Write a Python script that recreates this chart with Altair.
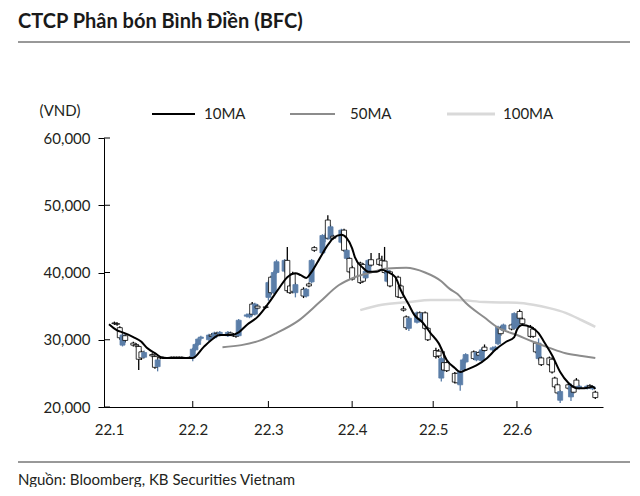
import altair as alt
import pandas as pd

# ---------------- data (VND) ----------------
dates = pd.bdate_range("2022-01-03", "2022-06-30")

open_ = [32500,32400,31800,29200,30600,29500,29300,29000,28200,27400,
         27800,27500,26000,27400,27400,27400,27400,27400,27400,27400,
         27400,27300,28500,29300,30200,30000,30700,30300,31000,30900,
         30600,31000,30800,30700,30600,33500,33400,35300,33800,35000,
         34900,36300,39300,37000,40000,40200,41800,38000,39800,37000,
         37500,36500,38300,38600,43700,42900,45000,47800,45000,45400,
         44500,46300,42100,42100,40700,41400,41200,39200,40200,41900,
         42000,41800,41700,38700,40100,39300,38000,34600,33400,31700,
         32600,34000,32700,34000,31700,28400,28300,24300,26600,26600,
         25000,25000,23300,25500,26700,28200,27000,28100,26900,28900,
         28500,28600,29400,31800,31400,32200,31700,32000,34200,33100,
         31900,31600,29500,27200,27300,27300,27100,24300,23300,21000,
         23300,21500,23000,24000,22800,22800,23200,22700,22200]
high = [32700,32600,32000,30900,30800,29700,29500,29200,28400,28400,
        28000,27700,27200,27500,27500,27500,27500,27500,27500,27500,
        27600,28800,29500,30300,30600,30900,31000,31200,31200,31300,
        31300,31200,31000,30900,33100,33900,34000,35600,35500,35300,
        35100,38800,39500,40300,41900,42000,43800,38300,40100,38500,
        37800,37700,38500,42000,43900,45700,45800,48500,47100,45600,
        46500,46500,43500,42300,41000,41600,41400,40500,42000,42900,
        42900,42500,43800,40500,40300,39500,38200,35000,33600,33500,
        34200,34200,34100,34200,31900,28800,28600,27500,28300,26800,
        25200,25100,25500,27200,28000,28400,28300,28300,28800,29300,
        29000,29100,32100,32000,32400,32400,34100,33700,34500,33300,
        32200,31900,29700,30200,27500,27500,27300,24500,23500,22500,
        23500,23500,23200,24300,23300,23300,23400,23200,22400]
low = [32200,32100,30000,29000,29600,29000,28900,25500,27000,27200,
       27400,25700,25300,27100,27200,27200,27200,27200,27200,27200,
       27200,26800,28300,29100,29900,29800,30300,30200,30700,30500,
       30400,30600,30400,30300,30500,33300,33200,33600,33600,34500,
       34600,35800,36700,36800,39800,40000,37000,36800,36900,36300,
       36200,36300,37800,38400,43100,42700,44500,44900,44800,44900,
       44300,43100,41900,39900,38800,38300,38500,39000,40000,40900,
       41000,40900,39800,38500,37800,36200,36100,34200,31500,31300,
       32400,32900,32500,31500,29800,27200,27300,23800,25300,25200,
       23500,23500,22400,25300,26500,27000,26800,27500,26700,28200,
       28300,28400,29200,30600,31200,31400,31500,31800,33000,32200,
       30300,30300,28000,26900,26100,26100,25000,22800,21900,20600,
       22600,20900,22000,22800,22600,22600,22700,22500,21200]
close = [32400,32300,30300,30700,29900,29200,29100,27100,27300,28100,
         27600,25900,27000,27300,27300,27300,27300,27300,27300,27300,
         27300,28600,29300,30100,30400,30700,30500,31000,30900,31100,
         31100,30800,30600,30500,32900,33700,33800,33800,35300,34700,
         34800,38500,37000,40000,41600,41800,37300,37000,37200,38200,
         36500,37500,38000,41800,43300,45500,45500,45100,46800,45100,
         46300,43300,43300,40100,39000,38500,38700,40200,41800,41100,
         41200,41100,40000,40300,38000,36400,36300,34400,31800,33200,
         34000,33100,33900,31700,30000,27500,27600,27200,25500,25400,
         23700,23600,25200,27000,27800,27200,28100,27700,28500,28400,
         28800,28900,31900,30900,32200,31600,33900,33500,33200,32400,
         30500,30500,28200,29500,26300,26300,25200,23000,22100,22300,
         22800,23200,22200,23000,23100,23100,22900,23000,21400]

ma10_dates = ["2022-01-01","2022-01-04","2022-01-06","2022-01-10","2022-01-13",
              "2022-01-15","2022-01-18","2022-01-21","2022-02-01","2022-02-05",
              "2022-02-08","2022-02-11","2022-02-15","2022-02-18","2022-02-21",
              "2022-02-25","2022-03-01","2022-03-05","2022-03-08","2022-03-11",
              "2022-03-13","2022-03-15","2022-03-17","2022-03-20","2022-03-23",
              "2022-03-25","2022-03-28","2022-03-30","2022-04-01","2022-04-02",
              "2022-04-05","2022-04-07","2022-04-10","2022-04-12","2022-04-14",
              "2022-04-17","2022-04-19","2022-04-22","2022-04-24","2022-04-27",
              "2022-04-30","2022-05-03","2022-05-06","2022-05-09","2022-05-11",
              "2022-05-13","2022-05-17","2022-05-21","2022-05-24","2022-05-28",
              "2022-05-31","2022-06-01","2022-06-03","2022-06-06","2022-06-09",
              "2022-06-11","2022-06-14","2022-06-17","2022-06-20","2022-06-23",
              "2022-06-26","2022-06-29","2022-06-30"]
ma10_vals = [32300,31400,31100,30400,29700,28800,28000,27300,27300,28900,
             30000,30700,30700,31100,32200,33400,35400,37700,39300,39900,
             39600,39200,40100,42100,44100,45100,45600,45100,43600,42300,
             40700,40100,40100,40400,40100,39300,37400,35200,33700,32600,
             31000,29500,27000,25800,25200,25500,26200,27300,28500,29700,
             30400,31500,32200,31900,31000,29700,27700,25200,23600,22800,
             22800,23000,22700]

ma50_dates = ["2022-02-12","2022-02-19","2022-02-26","2022-03-04","2022-03-12",
              "2022-03-20","2022-03-27","2022-04-02","2022-04-08","2022-04-14",
              "2022-04-21","2022-04-28","2022-05-04","2022-05-07","2022-05-10",
              "2022-05-13","2022-05-20","2022-05-25","2022-06-01","2022-06-07",
              "2022-06-13","2022-06-19","2022-06-25","2022-06-30"]
ma50_vals = [28900,29200,29900,31000,32800,35600,38100,39300,40000,40600,
             40700,40000,38700,37600,36800,35500,33300,31800,30700,29700,
             28800,28000,27600,27300]

ma100_dates = ["2022-04-04","2022-04-12","2022-04-22","2022-04-30","2022-05-10",
               "2022-05-20","2022-06-01","2022-06-07","2022-06-13","2022-06-19",
               "2022-06-25","2022-06-30"]
ma100_vals = [34400,35200,35600,35900,35900,35600,35500,35200,34700,34000,
              32900,31900]

y_ticks = [20000, 30000, 40000, 50000, 60000]
month_starts = ["2022-02-01","2022-03-01","2022-04-01","2022-05-01","2022-06-01"]

TITLE = "CTCP Phân bón Bình Điền (BFC)"
SOURCE = "Nguồn: Bloomberg, KB Securities Vietnam"
UNIT = "(VND)"
LEGEND = ["10MA", "50MA", "100MA"]

BLUE = "#5b7ea8"
FONT = "Lato"

# ---------------- build ----------------
candles = pd.DataFrame({"date": dates.strftime("%Y-%m-%d"), "open": open_,
                        "high": high, "low": low, "close": close})
ma10 = pd.DataFrame({"date": ma10_dates, "v": ma10_vals})
ma50 = pd.DataFrame({"date": ma50_dates, "v": ma50_vals})
ma100 = pd.DataFrame({"date": ma100_dates, "v": ma100_vals})

W, H = 499, 269
xscale = alt.Scale(type="utc", domain=[alt.DateTime(year=2022, month=1, date=1, utc=True),
                                       alt.DateTime(year=2022, month=7, date=1, utc=True)])
yscale = alt.Scale(domain=[20000, 60000], nice=False, zero=False)

xaxis = alt.Axis(values=[alt.DateTime(year=2022, month=m, date=1, utc=True) for m in range(1, 7)],
                 labelExpr="'22.' + (utcmonth(datum.value) + 1)", ticks=False,
                 labelPadding=15, title=None, grid=False, domainColor="#000000",
                 labelFontSize=15, labelColor="#231f20", labelFont=FONT, labelFlush=False)
yaxis = alt.Axis(values=y_ticks, labelExpr="format(datum.value, ',.0f')", title=None, grid=False,
                 tickSize=6, tickColor="#000000", domainColor="#000000", labelPadding=8,
                 labelFontSize=15, labelColor="#231f20", labelFont=FONT)

X = lambda f: alt.X(f, scale=xscale, axis=xaxis)
Y = lambda f: alt.Y(f, scale=yscale, axis=yaxis)

up = "datum.close >= datum.open"
base = alt.Chart(candles)
wick = base.mark_rule(strokeWidth=1.3).encode(
    x=X("date:T"), y=Y("low:Q"), y2="high:Q",
    color=alt.condition(up, alt.value(BLUE), alt.value("#000000")),
)
body = base.mark_bar(width=5, strokeWidth=0.8).encode(
    x=X("date:T"), y=Y("open:Q"), y2="close:Q",
    fill=alt.condition(up, alt.value(BLUE), alt.value("#ffffff")),
    stroke=alt.condition(up, alt.value(BLUE), alt.value("#000000")),
)

def ma_line(df, col, w):
    return alt.Chart(df).mark_line(strokeWidth=w, color=col, interpolate="monotone").encode(
        x=X("date:T"), y=Y("v:Q"))

lines100 = ma_line(ma100, "#d9d9d9", 2.5)
lines50 = ma_line(ma50, "#8c8c8c", 2)
lines10 = ma_line(ma10, "#000000", 2)

ytick_in = alt.Chart(pd.DataFrame({"v": y_ticks})).mark_rule(color="#000000").encode(
    y=Y("v:Q"), x=alt.value(0), x2=alt.value(6))
xtick_in = alt.Chart(pd.DataFrame({"d": month_starts})).mark_rule(color="#000000").encode(
    x=X("d:T"), y=alt.value(H - 6), y2=alt.value(H))

one = alt.Chart(pd.DataFrame({"a": [0]}))
title = one.mark_text(text=TITLE, font=FONT, fontSize=20, fontWeight="bold", align="left",
                      baseline="alphabetic", color="#1a1a1a").encode(x=alt.value(-86), y=alt.value(-110))
top_rule = one.mark_rule(color="#333333", strokeWidth=1).encode(
    x=alt.value(-86), x2=alt.value(526), y=alt.value(-96))
bot_rule = one.mark_rule(color="#333333", strokeWidth=1).encode(
    x=alt.value(-86), x2=alt.value(526), y=alt.value(324))
source = one.mark_text(text=SOURCE, font=FONT, fontSize=15, align="left", baseline="middle",
                       color="#231f20").encode(x=alt.value(-86), y=alt.value(342))
unit = one.mark_text(text=UNIT, font=FONT, fontSize=15, align="center", baseline="middle",
                     color="#231f20").encode(x=alt.value(-44), y=alt.value(-27))

leg_x = [(48, 91, 100), (186, 231, 246), (343, 391, 399)]
leg_col = ["#000000", "#8c8c8c", "#d9d9d9"]
leg_w = [2, 2, 3]
legend_layers = []
for (x1, x2, xt), col, lw, lab in zip(leg_x, leg_col, leg_w, LEGEND):
    legend_layers.append(one.mark_rule(color=col, strokeWidth=lw).encode(
        x=alt.value(x1), x2=alt.value(x2), y=alt.value(-24)))
    legend_layers.append(one.mark_text(text=lab, font=FONT, fontSize=15, align="left",
                                       baseline="middle", color="#231f20").encode(
        x=alt.value(xt), y=alt.value(-24)))

chart = alt.layer(
    wick, body, lines100, lines50, lines10, ytick_in, xtick_in,
    title, top_rule, bot_rule, source, unit, *legend_layers
).properties(
    width=W, height=H,
    padding={"left": 96, "top": 130, "right": 28, "bottom": 80},
    autosize=alt.AutoSizeParams(type="none"),
).configure_view(stroke=None)

chart.save("out.html", embed_options={"renderer": "svg", "actions": False})
